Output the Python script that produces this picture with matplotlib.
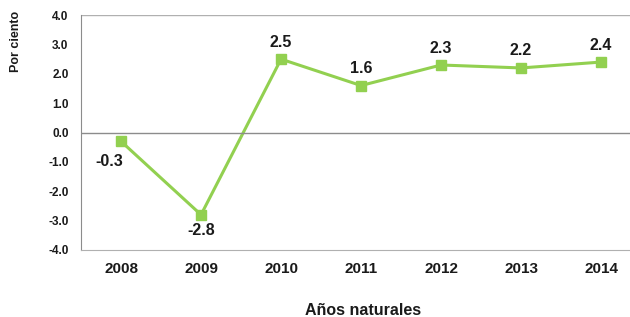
import numpy as np
import matplotlib.pyplot as plt

plt.rcParams['font.family'] = ['Liberation Sans', 'DejaVu Sans']

anios = ['2008', '2009', '2010', '2011', '2012', '2013', '2014']
valores = [-0.3, -2.8, 2.5, 1.6, 2.3, 2.2, 2.4]
etiquetas = ['-0.3', '-2.8', '2.5', '1.6', '2.3', '2.2', '2.4']
yticks = [-4.0, -3.0, -2.0, -1.0, 0.0, 1.0, 2.0, 3.0, 4.0]

verde = '#92D050'
gris = '#8c8c8c'

fig = plt.figure(figsize=(6.3, 3.17), dpi=100)
ax = fig.add_axes([0.1286, 0.2114, 0.889, 0.741])

x = np.arange(len(anios))
ax.plot(x, valores, color=verde, linewidth=2.2, marker='s', markersize=6.5,
        markerfacecolor=verde, markeredgecolor=verde)

# etiquetas de datos
for i, (v, t) in enumerate(zip(valores, etiquetas)):
    if i == 0:
        off = (-12, -20)
    elif v < 0:
        off = (0, -16)
    else:
        off = (0, 17)
    ax.annotate(t, (i, v), xytext=off, textcoords='offset pixels',
                ha='center', va='center', fontsize=11.5, fontweight='bold', color='#1a1a1a')

ax.axhline(0, color=gris, linewidth=1)
ax.axhline(4, color='#b0b0b0', linewidth=1)

ax.set_xlim(-0.5, 6.5)
ax.set_ylim(-4, 4)
ax.set_xticks(x)
ax.set_xticklabels(anios, fontsize=11, fontweight='bold', color='#1a1a1a')
ax.set_yticks(yticks)
ax.set_yticklabels([f'{v:.1f}' for v in yticks], fontsize=8.5, fontweight='bold', color='#1a1a1a')
ax.tick_params(length=0)
ax.tick_params(axis='y', pad=9)
ax.tick_params(axis='x', pad=9)

for s in ['top', 'right']:
    ax.spines[s].set_visible(False)
ax.spines['left'].set_color(gris)
ax.spines['bottom'].set_color('#b0b0b0')

fig.text(0.025, 0.868, 'Por ciento', rotation=90, ha='center', va='center',
         fontsize=9, fontweight='bold', color='#1a1a1a')
fig.text(0.577, 0.022, 'Años naturales', ha='center', va='center',
         fontsize=11.5, fontweight='bold', color='#1a1a1a')

plt.savefig('out.png', dpi=100)
